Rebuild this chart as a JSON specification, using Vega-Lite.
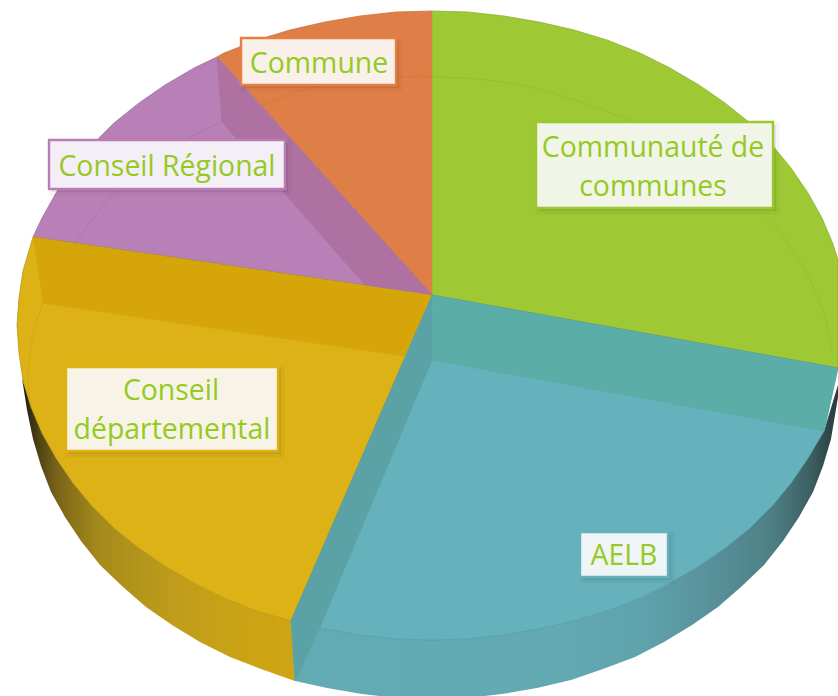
{"$schema":"https://vega.github.io/schema/vega-lite/v6.json","width":838,"height":696,"padding":0,"autosize":{"type":"fit","contains":"padding"},"background":"white","view":{"stroke":null},
"datasets":{
"wallY":[
{"i":1,"x":22,"y":378},{"i":2,"x":31,"y":407},{"i":3,"x":42,"y":433},{"i":4,"x":56,"y":458},{"i":5,"x":73,"y":483},{"i":6,"x":92,"y":506},{"i":7,"x":114,"y":528},{"i":8,"x":139,"y":548},{"i":9,"x":165,"y":566},{"i":10,"x":194,"y":583},{"i":11,"x":224,"y":598},{"i":12,"x":257,"y":611},{"i":13,"x":291,"y":621},
{"i":14,"x":295,"y":681},{"i":15,"x":261,"y":669},{"i":16,"x":230,"y":657},{"i":17,"x":200,"y":642},{"i":18,"x":172,"y":625},{"i":19,"x":146,"y":607},{"i":20,"x":122,"y":586},{"i":21,"x":100,"y":565},{"i":22,"x":81,"y":541},{"i":23,"x":65,"y":517},{"i":24,"x":51,"y":492},{"i":25,"x":41,"y":466},{"i":26,"x":33,"y":439},{"i":27,"x":27,"y":410}
],
"wallT":[
{"i":1,"x":291,"y":621},{"i":2,"x":325,"y":629},{"i":3,"x":360,"y":635},{"i":4,"x":396,"y":639},{"i":5,"x":432,"y":640},{"i":6,"x":468,"y":639},{"i":7,"x":504,"y":635},{"i":8,"x":539,"y":629},{"i":9,"x":574,"y":621},{"i":10,"x":607,"y":611},{"i":11,"x":640,"y":598},{"i":12,"x":670,"y":583},{"i":13,"x":699,"y":566},{"i":14,"x":725,"y":548},{"i":15,"x":750,"y":528},{"i":16,"x":772,"y":506},{"i":17,"x":791,"y":483},{"i":18,"x":808,"y":458},{"i":19,"x":824,"y":431},{"i":20,"x":838,"y":385},
{"i":21,"x":838,"y":397},{"i":22,"x":831,"y":439},{"i":23,"x":823,"y":466},{"i":24,"x":813,"y":492},{"i":25,"x":799,"y":517},{"i":26,"x":783,"y":541},{"i":27,"x":764,"y":565},{"i":28,"x":742,"y":586},{"i":29,"x":718,"y":607},{"i":30,"x":692,"y":625},{"i":31,"x":664,"y":642},{"i":32,"x":635,"y":657},{"i":33,"x":603,"y":669},{"i":34,"x":571,"y":680},{"i":35,"x":537,"y":688},{"i":36,"x":502,"y":694},{"i":37,"x":467,"y":698},{"i":38,"x":432,"y":699},{"i":39,"x":397,"y":698},{"i":40,"x":362,"y":694},{"i":41,"x":327,"y":688},{"i":42,"x":295,"y":681}
],
"polys":[
{"p":"green","i":1,"x":432,"y":11},{"p":"green","i":2,"x":468,"y":12},{"p":"green","i":3,"x":504,"y":16},{"p":"green","i":4,"x":539,"y":22},{"p":"green","i":5,"x":574,"y":30},{"p":"green","i":6,"x":607,"y":40},{"p":"green","i":7,"x":640,"y":53},{"p":"green","i":8,"x":670,"y":68},{"p":"green","i":9,"x":699,"y":85},{"p":"green","i":10,"x":725,"y":103},{"p":"green","i":11,"x":750,"y":123},{"p":"green","i":12,"x":772,"y":145},{"p":"green","i":13,"x":791,"y":168},{"p":"green","i":14,"x":808,"y":193},{"p":"green","i":15,"x":822,"y":218},{"p":"green","i":16,"x":833,"y":244},{"p":"green","i":17,"x":838,"y":260},{"p":"green","i":18,"x":838,"y":368},{"p":"green","i":19,"x":432,"y":295},{"p":"green","i":20,"x":432,"y":11},
{"p":"orange","i":1,"x":432,"y":295},{"p":"orange","i":2,"x":217,"y":57},{"p":"orange","i":3,"x":224,"y":53},{"p":"orange","i":4,"x":257,"y":40},{"p":"orange","i":5,"x":290,"y":30},{"p":"orange","i":6,"x":325,"y":22},{"p":"orange","i":7,"x":360,"y":16},{"p":"orange","i":8,"x":396,"y":12},{"p":"orange","i":9,"x":432,"y":11},
{"p":"purple","i":1,"x":432,"y":295},{"p":"purple","i":2,"x":33,"y":237},{"p":"purple","i":3,"x":42,"y":218},{"p":"purple","i":4,"x":56,"y":193},{"p":"purple","i":5,"x":73,"y":168},{"p":"purple","i":6,"x":92,"y":145},{"p":"purple","i":7,"x":114,"y":123},{"p":"purple","i":8,"x":139,"y":103},{"p":"purple","i":9,"x":165,"y":85},{"p":"purple","i":10,"x":194,"y":68},{"p":"purple","i":11,"x":217,"y":57},{"p":"purple","i":12,"x":432,"y":295},
{"p":"yellow","i":1,"x":432,"y":295},{"p":"yellow","i":2,"x":291,"y":621},{"p":"yellow","i":3,"x":257,"y":611},{"p":"yellow","i":4,"x":224,"y":598},{"p":"yellow","i":5,"x":194,"y":583},{"p":"yellow","i":6,"x":165,"y":566},{"p":"yellow","i":7,"x":139,"y":548},{"p":"yellow","i":8,"x":114,"y":528},{"p":"yellow","i":9,"x":92,"y":506},{"p":"yellow","i":10,"x":73,"y":483},{"p":"yellow","i":11,"x":56,"y":458},{"p":"yellow","i":12,"x":42,"y":433},{"p":"yellow","i":13,"x":31,"y":407},{"p":"yellow","i":14,"x":23,"y":380},{"p":"yellow","i":15,"x":19,"y":353},{"p":"yellow","i":16,"x":17,"y":325},{"p":"yellow","i":17,"x":19,"y":298},{"p":"yellow","i":18,"x":23,"y":271},{"p":"yellow","i":19,"x":33,"y":237},{"p":"yellow","i":20,"x":432,"y":295},
{"p":"teal","i":1,"x":432,"y":295},{"p":"teal","i":2,"x":838,"y":368},{"p":"teal","i":3,"x":824,"y":431},{"p":"teal","i":4,"x":808,"y":458},{"p":"teal","i":5,"x":791,"y":483},{"p":"teal","i":6,"x":772,"y":506},{"p":"teal","i":7,"x":750,"y":528},{"p":"teal","i":8,"x":725,"y":548},{"p":"teal","i":9,"x":699,"y":566},{"p":"teal","i":10,"x":670,"y":583},{"p":"teal","i":11,"x":640,"y":598},{"p":"teal","i":12,"x":607,"y":611},{"p":"teal","i":13,"x":574,"y":621},{"p":"teal","i":14,"x":539,"y":629},{"p":"teal","i":15,"x":504,"y":635},{"p":"teal","i":16,"x":468,"y":639},{"p":"teal","i":17,"x":432,"y":640},{"p":"teal","i":18,"x":396,"y":639},{"p":"teal","i":19,"x":360,"y":635},{"p":"teal","i":20,"x":325,"y":629},{"p":"teal","i":21,"x":291,"y":621},{"p":"teal","i":22,"x":432,"y":295},
{"p":"purpleBand","i":1,"x":217,"y":58},{"p":"purpleBand","i":2,"x":222,"y":122},{"p":"purpleBand","i":3,"x":365,"y":285},{"p":"purpleBand","i":4,"x":431,"y":294},
{"p":"yellowBand","i":1,"x":33,"y":238},{"p":"yellowBand","i":2,"x":431,"y":296},{"p":"yellowBand","i":3,"x":404,"y":356},{"p":"yellowBand","i":4,"x":43,"y":303},
{"p":"tealBand","i":1,"x":433,"y":296},{"p":"tealBand","i":2,"x":837,"y":369},{"p":"tealBand","i":3,"x":824,"y":431},{"p":"tealBand","i":4,"x":432,"y":360},
{"p":"tealStrip","i":1,"x":432,"y":296},{"p":"tealStrip","i":2,"x":432,"y":360},{"p":"tealStrip","i":3,"x":320,"y":627},{"p":"tealStrip","i":4,"x":295,"y":681},{"p":"tealStrip","i":5,"x":291,"y":621}
],
"curves":[
{"c":"a","i":1,"x":263,"y":105},{"c":"a","i":2,"x":297,"y":92},{"c":"a","i":3,"x":333,"y":83},{"c":"a","i":4,"x":397,"y":77},{"c":"a","i":5,"x":432,"y":77},
{"c":"b","i":1,"x":432,"y":77},{"c":"b","i":2,"x":487,"y":80},{"c":"b","i":3,"x":553,"y":93},{"c":"b","i":4,"x":637,"y":124},{"c":"b","i":5,"x":700,"y":160},{"c":"b","i":6,"x":763,"y":213},{"c":"b","i":7,"x":803,"y":267},{"c":"b","i":8,"x":824,"y":315},{"c":"b","i":9,"x":833,"y":355},
{"c":"d","i":1,"x":222,"y":122},{"c":"d","i":2,"x":167,"y":150},{"c":"d","i":3,"x":117,"y":190},{"c":"d","i":4,"x":75,"y":243},
{"c":"e","i":1,"x":43,"y":303},{"c":"e","i":2,"x":33,"y":335},{"c":"e","i":3,"x":28,"y":375},{"c":"e","i":4,"x":30,"y":400}
],
"boxes":[
{"label":"Commune","x":241,"x2":396,"y":38,"y2":85},
{"label":"Conseil Régional","x":49,"x2":285,"y":140,"y2":189},
{"label":"Conseil départemental","x":66,"x2":278,"y":367,"y2":451},
{"label":"AELB","x":580,"x2":668,"y":532,"y2":577},
{"label":"Communauté de communes","x":536,"x2":773,"y":122,"y2":208}
],
"texts":[
{"t":"Commune","x":319,"y":64},
{"t":"Conseil Régional","x":167,"y":167},
{"t":"Conseil","x":171,"y":391},
{"t":"départemental","x":172,"y":430},
{"t":"AELB","x":624,"y":556},
{"t":"Communauté de","x":653,"y":148},
{"t":"communes","x":653,"y":187}
]},
"layer":[
{"data":{"name":"wallY"},"mark":{"type":"line","strokeWidth":0,"clip":true,"fill":{"gradient":"linear","x1":0,"x2":1,"y1":0,"y2":0,"stops":[{"offset":0,"color":"#1d1a10"},{"offset":0.06,"color":"#4d4214"},{"offset":0.13,"color":"#7a6518"},{"offset":0.28,"color":"#a58a1c"},{"offset":0.55,"color":"#bf9c1a"},{"offset":0.75,"color":"#c8a216"},{"offset":1,"color":"#cfa512"}]}},
"encoding":{
"x":{"field":"x","type":"quantitative","scale":{"domain":[0,838],"nice":false,"zero":false},"axis":null},
"y":{"field":"y","type":"quantitative","scale":{"domain":[696,0],"nice":false,"zero":false},"axis":null},
"order":{"field":"i"}}},
{"data":{"name":"wallT"},"mark":{"type":"line","strokeWidth":0,"clip":true,"fill":{"gradient":"linear","x1":0,"x2":1,"y1":0,"y2":0,"stops":[{"offset":0,"color":"#62abb5"},{"offset":0.5,"color":"#62a9b2"},{"offset":0.65,"color":"#5fa2ac"},{"offset":0.78,"color":"#578f98"},{"offset":0.88,"color":"#4d7f85"},{"offset":0.95,"color":"#3d5f62"},{"offset":1,"color":"#263a3a"}]}},
"encoding":{
"x":{"field":"x","type":"quantitative","axis":null},
"y":{"field":"y","type":"quantitative","axis":null},
"order":{"field":"i"}}},
{"data":{"name":"polys"},"mark":{"type":"line","strokeWidth":0.8,"clip":true},
"encoding":{
"x":{"field":"x","type":"quantitative","axis":null},
"y":{"field":"y","type":"quantitative","axis":null},
"order":{"field":"i"},
"detail":{"field":"p"},
"fill":{"field":"p","type":"nominal","legend":null,"scale":{"domain":["green","orange","purple","yellow","teal","purpleBand","yellowBand","tealBand","tealStrip"],"range":["#9ec934","#df7f48","#b880b6","#dcb217","#66b2bc","#ae71a2","#d5a50a","#5bada7","#5aa2a5"]}},
"stroke":{"field":"p","type":"nominal","legend":null,"scale":{"domain":["green","orange","purple","yellow","teal","purpleBand","yellowBand","tealBand","tealStrip"],"range":["#8bb12c","#c97240","#a06ea0","#b8960f","#4d98a2","#ae71a2","#d5a50a","#5bada7","#5aa2a5"]}}
}},
{"data":{"name":"curves"},"mark":{"type":"line","strokeWidth":0.8,"interpolate":"cardinal","clip":true},
"encoding":{
"x":{"field":"x","type":"quantitative","axis":null},
"y":{"field":"y","type":"quantitative","axis":null},
"order":{"field":"i"},
"stroke":{"field":"c","type":"nominal","legend":null,"scale":{"domain":["a","b","d","e"],"range":["#d9733a","#93bd2c","#ab75a8","#cfa50f"]}}
}},
{"data":{"name":"boxes"},"mark":{"type":"rect","xOffset":3,"x2Offset":3,"yOffset":3,"y2Offset":3,"fill":"#000000","fillOpacity":0.07,"stroke":"#000000","strokeWidth":7,"strokeOpacity":0.035},
"encoding":{"x":{"field":"x","type":"quantitative","axis":null},"x2":{"field":"x2"},"y":{"field":"y","type":"quantitative","axis":null},"y2":{"field":"y2"}}},
{"data":{"name":"boxes"},"mark":{"type":"rect","strokeWidth":2.4},
"encoding":{"x":{"field":"x","type":"quantitative","axis":null},"x2":{"field":"x2"},"y":{"field":"y","type":"quantitative","axis":null},"y2":{"field":"y2"},
"fill":{"field":"label","type":"nominal","legend":null,"scale":{"domain":["Commune","Conseil Régional","Conseil départemental","AELB","Communauté de communes"],"range":["#f9f0ea","#f4eff6","#f7f4e7","#eff5f7","#f1f5e8"]}},
"stroke":{"field":"label","type":"nominal","legend":null,"scale":{"domain":["Commune","Conseil Régional","Conseil départemental","AELB","Communauté de communes"],"range":["#e77f45","#b87db5","#e0b111","#66b2bc","#9cc82f"]}}}},
{"data":{"name":"texts"},"mark":{"type":"text","font":"Open Sans","fontSize":28.4,"color":"#95c924","align":"center","baseline":"middle"},
"encoding":{"x":{"field":"x","type":"quantitative","axis":null},"y":{"field":"y","type":"quantitative","axis":null},"text":{"field":"t"}}}
],
"resolve":{"scale":{"fill":"independent","stroke":"independent"}}
}
